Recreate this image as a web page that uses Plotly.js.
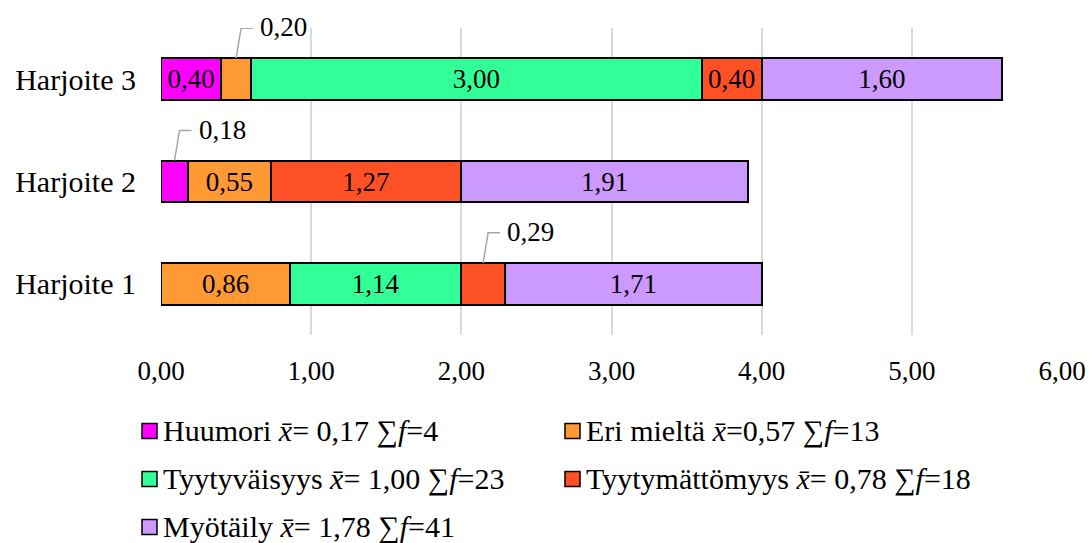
<!DOCTYPE html>
<html>
<head>
<meta charset="utf-8">
<script src="https://cdn.plot.ly/plotly-3.0.1.min.js"></script>
<style>
  html, body { margin: 0; padding: 0; background: #ffffff; }
  #chart { width: 1091px; height: 543px; }
</style>
</head>
<body>
<div id="chart"></div>
<script>
// Categories listed bottom to top
const categories = ['Harjoite 1', 'Harjoite 2', 'Harjoite 3'];

const seriesNames = ['Huumori', 'Eri mieltä', 'Tyytyväisyys', 'Tyytymättömyys', 'Myötäily'];
const huumori        = [null, 0.18, 0.40];
const eriMielta      = [0.86, 0.55, 0.20];
const tyytyvaisyys   = [1.14, null, 3.00];
const tyytymattomyys = [0.29, 1.27, 0.40];
const myotaily       = [1.71, 1.91, 1.60];

// Legend statistics per series: mean and frequency sum
const seriesMeans  = [0.17, 0.57, 1.00, 0.78, 1.78];
const seriesCounts = [4, 13, 23, 18, 41];
const meanGap      = [' ', '', ' ', ' ', ' '];

const tickValues = [0, 1, 2, 3, 4, 5, 6];

const seriesValues = [huumori, eriMielta, tyytyvaisyys, tyytymattomyys, myotaily];
const seriesColors = ['#ff00ff', '#ff9933', '#33ff99', '#ff5026', '#cc99ff'];

const FONT = 'Liberation Serif, Times New Roman, serif';
const FS = 27;        // numbers
const FS_TEXT = 30;   // category names and legend
const SMALL = 0.3;    // segments narrower than this get a callout label

const M = { l: 161, r: 29, t: 28, b: 208 };
const W = 1091, H = 543;
const plotW = W - M.l - M.r, plotH = H - M.t - M.b;

const fmt = v => v.toFixed(2).replace('.', ',');

const traces = seriesNames.map((name, i) => ({
  type: 'bar',
  orientation: 'h',
  name: name,
  y: categories,
  x: seriesValues[i],
  marker: { color: seriesColors[i], line: { color: '#000000', width: 2 } },
  texttemplate: seriesValues[i].map(v => (v !== null && v >= SMALL) ? '%{x:.2f}' : ''),
  textposition: 'inside',
  insidetextanchor: 'middle',
  constraintext: 'none',
  textangle: 0,
  textfont: { family: FONT, size: FS, color: '#000000' },
  hoverinfo: 'skip',
  showlegend: false
}));

// Callout labels with leader lines for the narrow segments
const annotations = [];
const shapes = [];
categories.forEach((cat, ci) => {
  let start = 0;
  seriesValues.forEach(vals => {
    const v = vals[ci];
    if (v === null) return;
    if (v < SMALL) {
      const mid = start + v / 2;
      shapes.push({
        type: 'path', xref: 'x', yref: 'y',
        xsizemode: 'pixel', ysizemode: 'pixel',
        xanchor: mid, yanchor: ci,
        path: 'M0,21 L5,51 L17,51',
        line: { color: '#a6a6a6', width: 1.5 }
      });
      annotations.push({
        x: mid, y: ci, xref: 'x', yref: 'y',
        text: fmt(v), showarrow: false,
        xanchor: 'left', yanchor: 'middle',
        xshift: 22, yshift: 52,
        font: { family: FONT, size: FS, color: '#000000' }
      });
    }
    start += v;
  });
});

// Legend drawn as two columns of swatches and texts
const legendCols = [142, 565];
const legendRows = [431, 479, 527];
const px2paperX = px => (px - M.l) / plotW;
const px2paperY = py => (H - M.b - py) / plotH;
seriesNames.forEach((name, i) => {
  const col = i % 2, row = Math.floor(i / 2);
  const x0 = legendCols[col], yc = legendRows[row];
  shapes.push({
    type: 'rect', xref: 'paper', yref: 'paper',
    xsizemode: 'pixel', ysizemode: 'pixel',
    xanchor: px2paperX(x0), yanchor: px2paperY(yc),
    x0: 0, x1: 15, y0: -7.5, y1: 7.5,
    fillcolor: seriesColors[i],
    line: { color: '#000000', width: 1.5 }
  });
  annotations.push({
    x: px2paperX(x0 + 19), y: px2paperY(yc), xref: 'paper', yref: 'paper',
    xanchor: 'left', yanchor: 'middle', showarrow: false,
    text: name + ' <i>x\u0304</i>=' + meanGap[i] + fmt(seriesMeans[i]) +
          ' \u2211<i>f</i>=' + seriesCounts[i],
    font: { family: FONT, size: FS_TEXT, color: '#000000' }
  });
});

const layout = {
  width: W, height: H,
  margin: M,
  paper_bgcolor: '#ffffff',
  plot_bgcolor: '#ffffff',
  barmode: 'stack',
  bargap: 0.59,
  separators: ', ',
  showlegend: false,
  font: { family: FONT, size: FS, color: '#000000' },
  xaxis: {
    range: [0, 6],
    tickvals: tickValues,
    tickformat: '.2f',
    showgrid: true,
    gridcolor: '#d9d9d9',
    gridwidth: 2,
    zeroline: false,
    showline: false,
    ticks: '',
    ticklabelstandoff: 17,
    tickfont: { family: FONT, size: FS, color: '#000000' },
    fixedrange: true
  },
  yaxis: {
    type: 'category',
    categoryorder: 'array',
    categoryarray: categories,
    range: [-0.5, 2.5],
    showgrid: false,
    zeroline: false,
    showline: false,
    ticks: '',
    ticklabelstandoff: 24,
    tickfont: { family: FONT, size: FS_TEXT, color: '#000000' },
    fixedrange: true
  },
  annotations: annotations,
  shapes: shapes
};

Plotly.newPlot('chart', traces, layout, { displayModeBar: false, staticPlot: true });
</script>
</body>
</html>
